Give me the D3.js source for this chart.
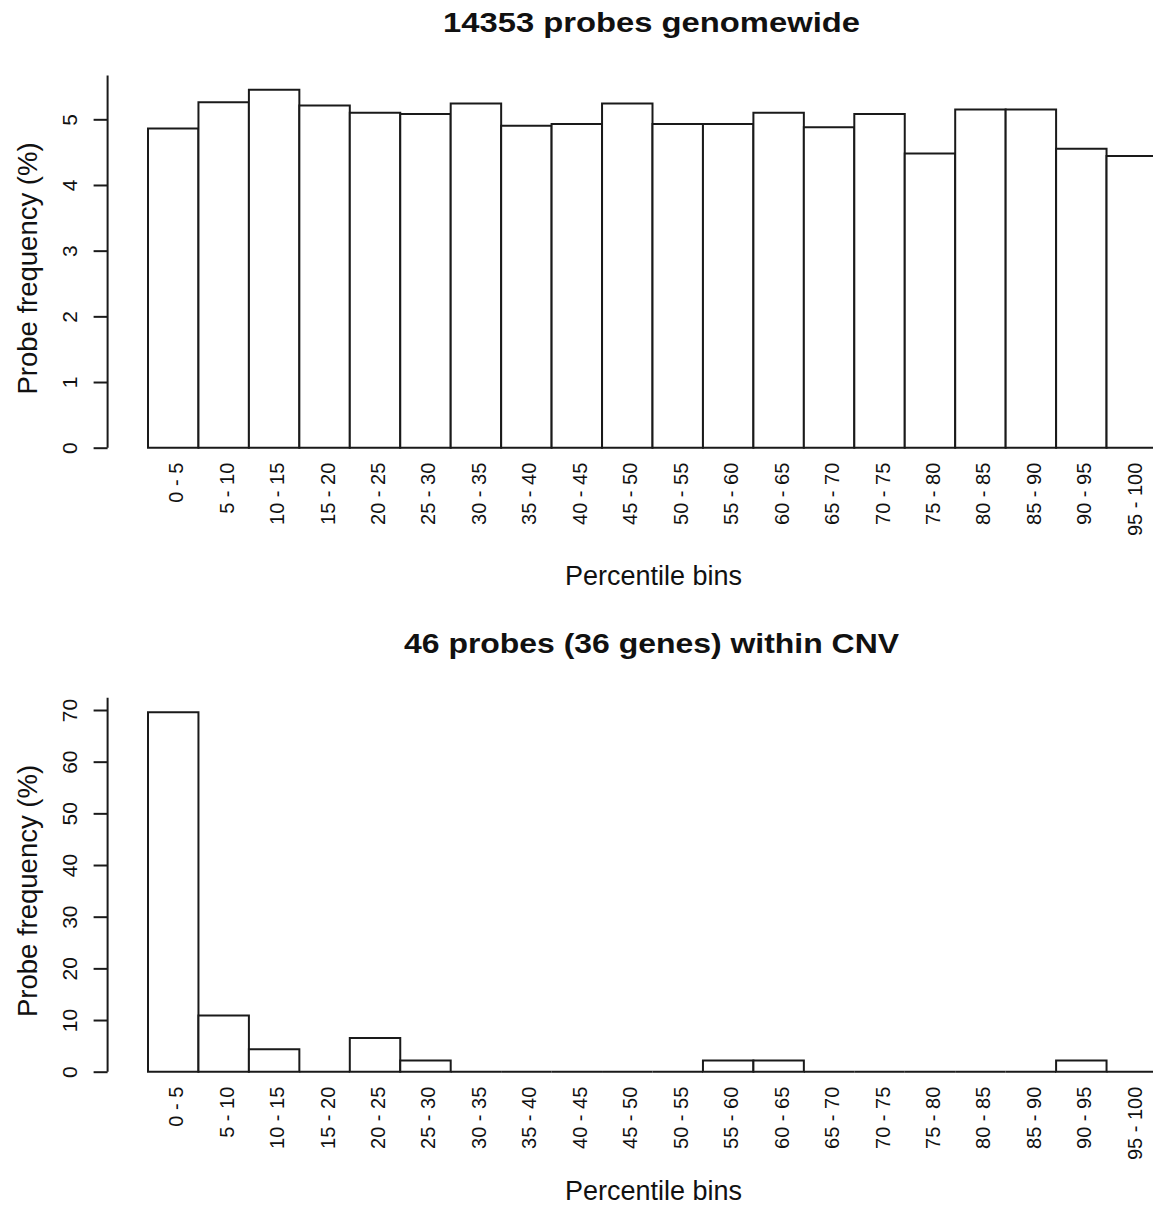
<!DOCTYPE html>
<html>
<head>
<meta charset="utf-8">
<script src="https://cdn.jsdelivr.net/npm/d3@7"></script>
<style>
  html, body { margin: 0; padding: 0; background: #ffffff; }
  svg { display: block; font-family: "Liberation Sans", Arial, sans-serif; }
  text { fill: #111; }
</style>
</head>
<body>
<svg id="chart" width="1153" height="1216"></svg>
<script>
// Percentile bins shared by both panels
const bins = ["0 - 5","5 - 10","10 - 15","15 - 20","20 - 25","25 - 30","30 - 35","35 - 40",
              "40 - 45","45 - 50","50 - 55","55 - 60","60 - 65","65 - 70","70 - 75","75 - 80",
              "80 - 85","85 - 90","90 - 95","95 - 100"];

// Genome-wide probe frequency (%) per bin
const genomewideFreq = [4.86, 5.26, 5.45, 5.21, 5.10, 5.08, 5.24, 4.90, 4.93, 5.24,
                        4.93, 4.93, 5.10, 4.88, 5.08, 4.48, 5.15, 5.15, 4.55, 4.44];

// Probe frequency (%) for the 46 probes inside CNV regions
const cnvFreq = [69.57, 10.87, 4.35, 0, 6.52, 2.17, 0, 0, 0, 0,
                 0, 2.17, 2.17, 0, 0, 0, 0, 0, 2.17, 0];

const genomewideTicks = [0, 1, 2, 3, 4, 5];
const cnvTicks = [0, 10, 20, 30, 40, 50, 60, 70];

const titles = ["14353 probes genomewide", "46 probes (36 genes) within CNV"];
const xLabel = "Percentile bins";
const yLabel = "Probe frequency (%)";

const svg = d3.select("#chart");
const ink = "#1a1a1a";
const lw = 2;

const axisX = 107.6;          // left edge of the plotting region
const x = d3.scaleBand().domain(bins).range([148, 148 + 20 * 50.45]).padding(0);

function panel(cfg) {
  const { values, ticks, y, titleY, titleLen, xLabY, yLabCenter } = cfg;
  const g = svg.append("g");

  // bars as closed outlines, so empty bins still show as a line on the baseline
  g.selectAll("path.bar")
    .data(values)
    .join("path")
    .attr("class", "bar")
    .attr("d", (d, i) => {
      const x0 = x(bins[i]), x1 = x0 + x.bandwidth();
      const p = d3.path();
      p.moveTo(x0, y(0));
      p.lineTo(x0, y(d));
      p.lineTo(x1, y(d));
      p.lineTo(x1, y(0));
      p.closePath();
      return p.toString();
    })
    .attr("fill", "#fff")
    .attr("stroke", ink)
    .attr("stroke-width", lw)
    .attr("stroke-linejoin", "miter");

  // y axis
  const yTop = d3.max(values) * 1.04;
  const ya = g.append("g")
    .attr("transform", `translate(${axisX},0)`)
    .call(d3.axisLeft(y).tickValues(ticks).tickFormat(d3.format("d"))
            .tickSize(14).tickSizeOuter(0));
  ya.select(".domain").remove();
  ya.append("line")
    .attr("x1", 0).attr("x2", 0)
    .attr("y1", y(0)).attr("y2", y(yTop))
    .attr("stroke", ink).attr("stroke-width", lw);
  ya.selectAll(".tick line").attr("stroke", ink).attr("stroke-width", lw);
  ya.selectAll(".tick text")
    .attr("x", null).attr("dy", null)
    .attr("transform", "translate(-30.6,0) rotate(-90)")
    .attr("text-anchor", "middle")
    .style("font-size", "21px")
    .style("font-family", "'Liberation Sans', Arial, sans-serif")
    .attr("fill", "#111");

  // x category labels, rotated, below the bars
  const xa = g.append("g")
    .attr("transform", `translate(0,${y(0) + 15})`)
    .call(d3.axisBottom(x).tickSize(0).tickPadding(0));
  xa.select(".domain").remove();
  xa.selectAll(".tick text")
    .attr("y", null).attr("dy", null)
    .attr("transform", "translate(10,0) rotate(-90)")
    .attr("text-anchor", "end")
    .style("font-size", "20px")
    .style("font-family", "'Liberation Sans', Arial, sans-serif")
    .attr("fill", "#111");

  // title
  g.append("text")
    .attr("x", 651.5).attr("y", titleY)
    .attr("text-anchor", "middle")
    .attr("textLength", titleLen)
    .attr("lengthAdjust", "spacingAndGlyphs")
    .style("font-size", "28px")
    .style("font-weight", "bold")
    .text(cfg.title);

  // axis titles
  g.append("text")
    .attr("x", 653.5).attr("y", xLabY)
    .attr("text-anchor", "middle")
    .style("font-size", "27px")
    .text(xLabel);

  g.append("text")
    .attr("transform", `translate(37,${yLabCenter}) rotate(-90)`)
    .attr("text-anchor", "middle")
    .style("font-size", "27.5px")
    .text(yLabel);
}

panel({
  values: genomewideFreq,
  ticks: genomewideTicks,
  y: d3.scaleLinear().domain([0, 5]).range([447.7, 119.3]),
  title: titles[0], titleY: 32, titleLen: 417,
  xLabY: 585, yLabCenter: 268.5
});

panel({
  values: cnvFreq,
  ticks: cnvTicks,
  y: d3.scaleLinear().domain([0, 70]).range([1071.7, 710]),
  title: titles[1], titleY: 653, titleLen: 495,
  xLabY: 1200, yLabCenter: 891
});
</script>
</body>
</html>
